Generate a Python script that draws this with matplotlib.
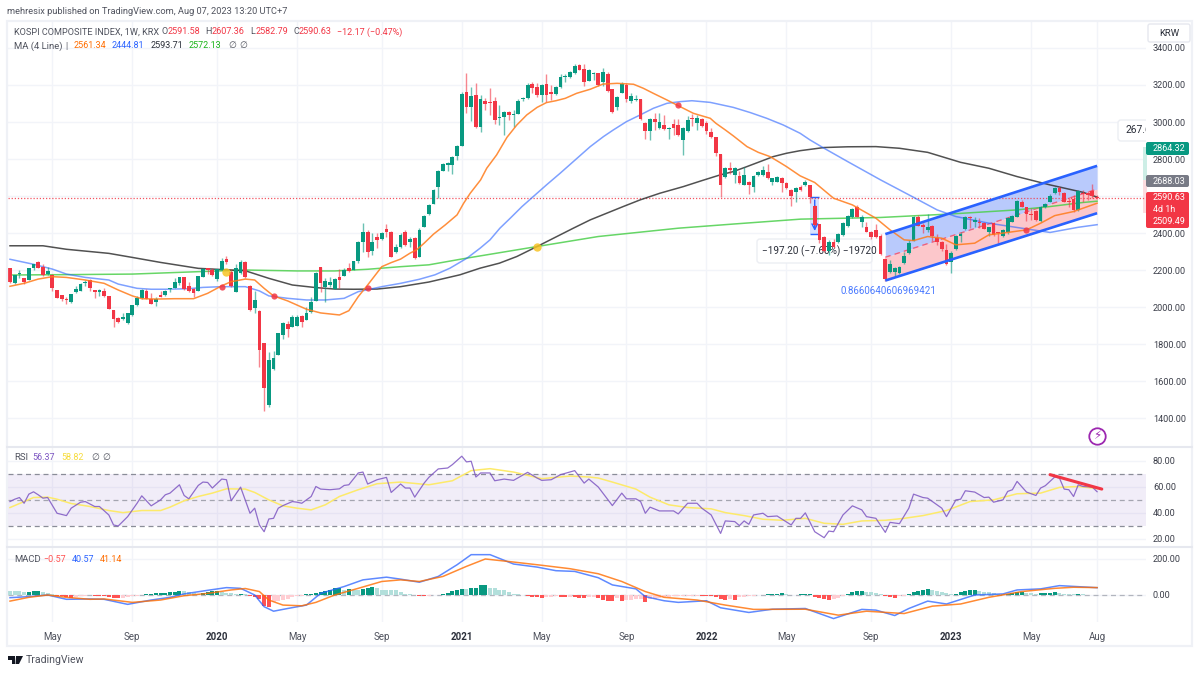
import matplotlib
matplotlib.use('Agg')
import matplotlib.pyplot as plt
import numpy as np
from matplotlib.patches import FancyBboxPatch, Rectangle, Polygon
from matplotlib.transforms import IdentityTransform

plt.rcParams['font.family'] = ['Roboto', 'DejaVu Sans']
plt.rcParams['axes.unicode_minus'] = False

# weekly candles
opens = [2209,2132,2177,2155,2146,2213,2243,2218,2178,2173,
         2092,2065,2043,2025,2083,2088,2128,2146,2090,2083,
         2087,2058,1984,1943,1934,1912,1955,2009,2047,2088,
         2045,2027,2065,2063,2096,2105,2132,2160,2115,2097,
         2087,2164,2209,2200,2151,2200,2259,2191,2081,2182,
         2245,2114,1993,1980,1804,1469,1665,1743,1849,1908,
         1894,1898,1953,1930,1975,2034,2214,2110,2121,2097,
         2160,2168,2211,2200,2250,2351,2407,2304,2376,2366,
         2420,2407,2295,2327,2403,2349,2372,2273,2435,2503,
         2557,2647,2737,2768,2768,2818,2872,3160,3079,3146,
         2971,3114,3110,3115,3020,3029,3056,3038,3043,3123,
         3132,3204,3191,3146,3204,3164,3151,3187,3241,3245,
         3263,3308,3286,3223,3258,3263,3214,3259,3177,3079,
         3159,3200,3115,3119,3123,2997,2952,3016,2966,2984,
         2961,2989,2984,2903,2952,3020,2993,3015,2997,2948,
         2917,2826,2705,2752,2714,2709,2660,2678,2647,2714,
         2714,2728,2678,2678,2696,2669,2633,2624,2651,2658,
         2658,2548,2448,2381,2305,2354,2349,2390,2439,2484,
         2543,2462,2430,2408,2417,2386,2260,2187,2187,2183,
         2237,2291,2359,2489,2444,2417,2439,2372,2350,2309,
         2246,2313,2385,2422,2484,2462,2462,2453,2403,2453,
         2404,2386,2403,2462,2489,2570,2538,2503,2521,2464,
         2538,2570,2615,2645,2615,2574,2583,2525,2615,2615,
         2627,2591.58]
highs = [2213,2173,2200,2157,2211,2234,2250,2231,2214,2178,
         2094,2067,2056,2072,2114,2128,2146,2150,2092,2096,
         2101,2060,1986,1948,1966,1968,2013,2060,2096,2096,
         2074,2056,2088,2090,2103,2155,2164,2164,2137,2103,
         2170,2209,2213,2209,2206,2267,2276,2204,2231,2254,
         2250,2117,2088,1984,1806,1759,1764,1862,1921,1926,
         1957,1957,1959,2002,2052,2191,2218,2155,2160,2155,
         2204,2209,2240,2250,2358,2456,2416,2402,2402,2407,
         2448,2412,2340,2400,2417,2377,2380,2426,2498,2555,
         2640,2740,2776,2785,2815,2878,3160,3267,3187,3209,
         3146,3128,3182,3137,3092,3060,3061,3065,3122,3137,
         3209,3218,3209,3206,3259,3200,3195,3259,3259,3278,
         3313,3313,3313,3285,3270,3267,3290,3272,3180,3142,
         3216,3209,3159,3146,3126,2999,3020,3047,3051,3038,
         2975,3015,3015,2975,3032,3043,3038,3020,3005,2966,
         2920,2829,2755,2786,2755,2737,2759,2680,2713,2737,
         2763,2771,2700,2709,2705,2678,2638,2646,2660,2687,
         2660,2550,2450,2385,2360,2365,2400,2458,2498,2535,
         2550,2495,2462,2412,2450,2392,2264,2255,2215,2220,
         2300,2362,2490,2498,2453,2502,2445,2395,2355,2340,
         2304,2390,2403,2490,2490,2485,2480,2460,2435,2458,
         2408,2422,2485,2500,2578,2579,2542,2534,2525,2545,
         2562,2610,2650,2652,2620,2597,2606,2630,2630,2625,
         2665,2607.36]
lows = [2132,2124,2155,2123,2144,2200,2209,2168,2173,2087,
        2047,2033,2016,2023,2078,2086,2114,2088,2051,2060,
        2056,1989,1890,1916,1930,1908,1953,2007,2045,2042,
        2016,2006,2052,2061,2081,2103,2119,2092,2081,2052,
        2085,2162,2177,2168,2139,2198,2232,2110,2079,2180,
        2155,1980,1970,1678,1440,1458,1660,1741,1826,1840,
        1892,1896,1894,1928,1970,2032,2083,2029,2110,2095,
        2101,2166,2191,2198,2236,2299,2268,2281,2317,2362,
        2380,2268,2290,2320,2332,2327,2260,2270,2433,2500,
        2555,2588,2735,2735,2720,2795,2870,3047,3007,2966,
        2948,3065,3038,2989,2984,2930,3011,2975,3041,3115,
        3125,3155,3137,3110,3110,3119,3146,3185,3218,3240,
        3260,3279,3195,3221,3227,3197,3195,3160,3051,3065,
        3157,3110,3105,3115,3011,2907,2903,2957,2960,2957,
        2907,2930,2925,2822,2948,2979,2957,2975,2935,2912,
        2817,2593,2700,2719,2669,2665,2657,2611,2624,2708,
        2708,2692,2660,2674,2624,2638,2547,2570,2625,2655,
        2560,2440,2345,2298,2282,2320,2345,2385,2435,2480,
        2485,2435,2403,2367,2372,2283,2143,2183,2161,2180,
        2230,2287,2355,2436,2399,2403,2359,2336,2305,2228,
        2183,2310,2354,2418,2425,2435,2426,2420,2385,2385,
        2345,2380,2395,2458,2485,2538,2466,2471,2465,2460,
        2533,2566,2610,2605,2566,2539,2516,2520,2570,2578,
        2590,2582.79]
closes = [2137,2173,2182,2133,2209,2232,2213,2173,2196,2101,
          2051,2042,2038,2070,2096,2124,2133,2105,2081,2090,
          2060,1991,1934,1921,1944,1966,2009,2051,2092,2045,
          2018,2045,2054,2087,2101,2137,2160,2097,2085,2078,
          2168,2205,2202,2175,2204,2250,2241,2114,2209,2241,
          2160,1984,2038,1768,1561,1714,1723,1858,1912,1883,
          1944,1948,1921,1970,2029,2182,2128,2142,2135,2150,
          2146,2200,2196,2247,2351,2405,2299,2353,2362,2398,
          2405,2272,2326,2390,2336,2367,2264,2417,2494,2552,
          2633,2736,2772,2777,2809,2872,3153,3079,3141,2971,
          3123,3097,3105,3011,3027,3056,3038,3042,3115,3132,
          3198,3182,3146,3202,3146,3151,3191,3241,3249,3272,
          3304,3281,3218,3281,3263,3200,3268,3169,3056,3137,
          3205,3123,3141,3126,3016,2952,3016,3002,3002,2961,
          2970,2970,2930,2970,3011,3016,3020,2979,2952,2917,
          2831,2660,2750,2741,2750,2669,2714,2660,2709,2732,
          2741,2696,2696,2705,2669,2642,2601,2642,2633,2673,
          2592,2444,2363,2305,2354,2327,2394,2453,2493,2529,
          2489,2489,2408,2381,2377,2287,2151,2232,2210,2214,
          2278,2345,2484,2440,2435,2435,2386,2354,2313,2233,
          2291,2385,2395,2484,2480,2471,2453,2424,2431,2390,
          2399,2417,2480,2493,2574,2543,2502,2498,2471,2538,
          2557,2601,2642,2624,2570,2566,2525,2627,2611,2606,
          2601,2590.63]

# moving averages, week index + value
ma_orange_w = [0,3,6,9,12,16,20,23,26,28,31,35,39,42,45,47,50,52,54,56,59,63,66,70,72,74,76,79,81,
               83,85,86.4,88,90,92.5,95,96.4,97.8,100,101.3,103.4,105.6,107.7,109.8,112,114,116,118,120.4,123.3,126,129,132.5,134.6,136.7,139.6,141.7,145.2,148.8,150,152,153.7,156.6,159,161.5,163.6,165,167.9,
               171,175,179,184,187,190,192,195,198,201,205,208,212,216,219,222,226,231]
ma_orange_v = [2112,2128,2151,2164,2160,2146,2128,2092,2060,2045,2043,2045,2045,2074,2115,2137,2151,2146,2101,2060,2033,1988,1968,1957,1980,2056,2119,2218,2240,
               2259,2291,2309,2345,2394,2444,2498,2561,2615,2687,2750,2822,2917,2984,3038,3079,3105,3115,3128,3155,3177,3205,3209,3204,3182,3155,3119,3092,3047,3020,2993,2957,2925,2867,2836,2813,2781,2759,2709,
               2673,2588,2552,2480,2417,2363,2359,2381,2372,2336,2345,2390,2403,2417,2453,2494,2516,2561]
ma_blue_w = [0,5,9,12,16,21,23,27,30,33,38,41,45,48,50,53,55,59,63,67,71,74,79,83,87,
             90.3,93.5,97.1,99.9,102,104.1,106.3,108.8,111.2,114,116.9,120.1,123.3,126.1,128.2,131,133.9,136.7,139.6,142.4,144.9,148.8,153.7,157.3,160.8,164.3,167.9,
             170,173,178,185,192,197,201,208,215,221,227,231]
ma_blue_v = [2258,2231,2205,2178,2160,2146,2124,2101,2096,2096,2099,2106,2110,2110,2110,2087,2060,2047,2038,2038,2047,2083,2110,2128,2150,
             2174,2210,2264,2318,2363,2426,2480,2543,2597,2660,2723,2795,2867,2921,2957,3002,3038,3074,3101,3110,3115,3106,3079,3051,3020,2984,2939,
             2903,2858,2786,2687,2593,2525,2489,2453,2426,2403,2431,2445]
ma_black_w = [0,7,12,21,26,32,40,47,50,55,60,65,69,73,78,83,89,
              95.6,99.9,104,107.7,112,116.2,119.7,123.3,126.8,130.3,133.9,138.1,143.1,147,150.9,153.7,156.6,159.4,162.2,165,167.9,
              173,178,184,189,195,202,208,214,221,228,231]
ma_black_v = [2331,2331,2312,2290,2268,2241,2209,2200,2196,2155,2119,2105,2097,2096,2097,2110,2135,
              2174,2210,2237,2273,2327,2381,2426,2471,2507,2543,2579,2615,2651,2683,2714,2732,2759,2786,2813,2831,2845,
              2862,2866,2867,2858,2836,2782,2750,2705,2660,2620,2594]
ma_green_w = [0,12,26,40,50,61,69,76,83,89,97,112,125,142,154,168,185,200,214,221,228,231]
ma_green_v = [2173,2175,2178,2191,2200,2195,2195,2204,2218,2228,2264,2327,2381,2426,2449,2475,2484,2503,2525,2543,2565,2572]

cross_red_w = [45,56,76,142,216]
cross_red_v = [2110,2060,2101,3090,2417]
cross_yellow_w = [46,112]
cross_yellow_v = [2191,2327]

# channel drawing
channel_w = [186,231]
channel_top = [2394,2763]
channel_mid = [2269,2637]
channel_bot = [2143,2507]

# RSI
rsi_w = [0,1,2,3,4,5,6,7,8,10,12,13,15,16,18,19,21,22,23,25,27,28,30,32,33,34,36,37,38,40,41,42,43,45,46,47,49,51,52,53,54,55,56,57,58,60,61,62,64,65,66,68,70,71,72,74,75,76,78,80,81,83,84,85,86,88,89,91,93,94,96,97,98,99,100,102,103,105,107,110,112,113,115,117,120,122,123,125,
         128,130,131,133,134,135,136,138,141,142,144,146,147,149,151,152,154,155,156,157,158,160,161,163,164,166,167,168,169,171,173,174,175,177,179,181,182,184,186,187,189,191,192,194,195,197,198,199,201,202,203,205,207,208,209,211,212,213,214,216,218,219,220,222,223,224,225,226,227,228,230,231]
rsi_v = [48.8,50.6,51.9,47.5,54.5,56.3,54,51.4,51.9,39.8,38,43.7,48.3,48.8,45,45,38.5,30.8,30,37.2,47.5,53.2,45.5,50.1,54,55.3,61.7,53.5,50.9,61.2,63.8,63.5,59.2,66.1,65.6,49.4,59.9,39.8,43.7,30.8,25.6,35.4,35.9,43.7,45.7,48.8,48.3,47.5,52.7,60.4,58.4,57.9,58.6,61.2,61.7,70.8,71.5,62.3,65.6,67.4,55.8,62.3,59.2,59.2,52.2,63,67.4,73.9,74.6,77.2,83.7,79.3,79.8,67.7,70.8,70.8,64.8,66.1,65.1,71.3,66.9,65.1,65.6,69.5,72.6,63,66.1,60,
         45.7,55.3,50.9,50.9,48.8,39.8,44.5,41.6,41.6,39.3,47.5,47.5,43.7,38.5,24.3,33.9,33.4,30.3,33.9,31.3,38.5,39.8,37.2,37.7,35.4,30.8,35.9,35.9,40.1,25.6,21,26.1,25.6,38.5,45.5,42.4,37.2,35.9,25.1,32.8,31.8,43.7,54.5,51.9,51.4,46.3,43.7,37.2,50.1,50.6,57.1,56.1,51.9,52.2,48.3,50.1,56.6,57.9,64.3,56.1,53.5,59.2,61,67.7,66.9,58.4,57.9,52.7,61.7,60.4,59.9,56.37]
rsi_ma_w = [0,3,5,8,10,13,17,21,24,28,32,34,37,40,43,46,50,52,55,58,61,64,67,70,74,78,83,89,94,98,102,107,113,119,123,125,
            128,133,136,140,144,149,152,156,160,164,169,173,177,181,186,190,194,199,204,209,214,219,223,227,231]
rsi_ma_v = [44.2,48.8,51.9,52.2,50.6,47.3,45,41.9,40.3,41.9,41.9,44.5,49.4,52.7,55.3,58.6,58.4,55.8,50.1,45.5,43.7,42.4,46.3,52.7,57.9,62.5,63.8,61.7,64.8,72.6,74.1,71.5,66.4,68.4,67.7,66.9,
            63.8,58.4,52.2,46.3,44.2,43.2,40.3,38,35.2,34.4,35.9,32.1,31.3,33.9,34.4,35.9,38,41.9,48.8,50.1,54.8,55.3,59.7,60.4,58.82]
rsi_trend_w = [221,232]
rsi_trend_v = [69.5,58.4]
rsi_ticks = [20,40,60,80]
rsi_levels = [30,50,70]

# MACD
macd_w = [0,4,8,12,17,20,25,30,34,37,42,46,49,52,54,56,59,63,66,71,75,80,83,87,91,95,98,102,107,112,116,120,125,
          128,133,135,139,142,148,151,157,162,169,175,181,184,188,191,195,199,205,211,214,219,223,231]
macd_v = [-15,-9,0,-24,-22,-24,-52,-28,-13,6,26,41,37,0,-65,-90,-75,-56,9,47,84,99,88,71,103,168,224,224,172,155,135,131,96,
          56,34,-9,-32,-41,-32,-71,-97,-79,-75,-131,-80,-84,-114,-75,-34,-50,0,6,28,34,52,40.57]
signal_w = [0,4,8,12,17,20,26,32,37,42,47,50,53,55,58,62,65,69,74,79,83,87,92,97,101,107,113,119,125,
            130,135,139,146,152,158,169,176,182,190,196,202,208,215,222,226,231]
signal_v = [-34,-13,0,-13,-24,-22,-41,-28,-4,9,28,36,19,-28,-56,-60,-41,0,37,75,84,75,103,159,200,183,165,146,118,
            75,19,-13,-28,-56,-80,-79,-112,-90,-103,-62,-50,-13,19,37,43,41.14]
macd_hist = [22,21,20,16,18,20,22,14,10,5,
             -3,-6,-10,-15,-10,-5,-3,-2,-3,-5,
             -8,-12,-15,-18,-14,-10,-6,-3,2,5,
             7,9,11,13,15,18,22,20,14,10,
             8,12,18,20,22,16,12,9,6,7,
             3,-8,-10,-25,-60,-65,-40,-35,-28,-20,
             -12,-8,-3,4,8,10,14,22,30,38,
             40,30,35,30,30,33,38,42,38,30,
             28,28,25,15,8,4,2,-4,-7,-4,
             -1,2,6,12,20,30,36,36,38,40,
             55,58,40,38,30,25,15,8,3,-2,
             -8,-10,-12,-14,-12,-9,-8,-10,-12,-10,
             -11,-17,-18,-10,-9,-15,-28,-35,-36,-15,
             -35,-30,-27,-25,-24,-38,-22,-20,-16,-12,
             -10,-8,-6,-5,-4,-3,-3,-5,-7,-8,
             -12,-20,-28,-20,-28,-12,-10,-8,-5,-2,
             2,5,7,8,9,5,-2,-1,4,6,
             7,-10,-16,-22,-26,-22,-16,-8,6,14,
             20,22,18,14,10,4,-6,-10,-14,-8,
             -3,6,16,24,30,33,30,22,16,10,
             5,8,14,22,26,28,24,18,14,10,
             7,5,7,10,14,16,13,9,6,9,
             11,13,16,12,8,5,3,4,3,2,
             1,-0.57]
macd_ticks = [0,200]

price_ticks = [1400,1600,1800,2000,2200,2400,2600,2800,3000,3200,3400]
time_ticks = [9,26,44,61,79,96,113,131,148,165,183,200,217,231]
time_labels = ['May','Sep','2020','May','Sep','2021','May','Sep','2022','May','Sep','2023','May','Aug']

measure_w = [170,172]
measure_v = [2593,2396]
position_top = 2864.32
position_entry = 2688.03
position_stop = 2509.49

GREEN = '#089981'
RED = '#f23645'
GRID = '#f2f4f9'
TEXT = '#50535e'
W, H = 1200, 674
X0, STEP = 10, 4.706


def box(left, top, right, bottom):
    return [left / W, 1 - bottom / H, (right - left) / W, (bottom - top) / H]


def week_at(x):
    return (x - X0) / STEP


def price_at(y):
    return 3000 - 5.405 * (y - 122)


def ftext(x, y, s, color=TEXT, size=6.5, **kw):
    fig.text(x / W, 1 - y / H, s, color=color, fontsize=size, va='center', zorder=20, **kw)


def prep_axes(ax, ticks, labels):
    for sp in ax.spines.values():
        sp.set_visible(False)
    ax.set_xlim(week_at(8), week_at(1146))
    ax.yaxis.tick_right()
    ax.set_yticks(ticks, labels)
    ax.set_xticks(time_ticks)
    ax.tick_params(axis='y', length=0, pad=5, labelsize=6.6, labelcolor='#3c3f4a')
    ax.tick_params(axis='x', length=0, labelbottom=False)
    ax.grid(color=GRID, lw=1)
    ax.set_axisbelow(True)


fig = plt.figure(figsize=(12, 6.74), dpi=100, facecolor='white')
ax = fig.add_axes(box(8, 22, 1146, 446))
ax_rsi = fig.add_axes(box(8, 447, 1146, 546))
ax_macd = fig.add_axes(box(8, 548, 1146, 622))

# price panel
weeks = np.arange(len(closes))
o, h, l, c = map(np.array, (opens, highs, lows, closes))
up = c >= o
col = np.where(up, GREEN, RED)

ax.fill_between(channel_w, channel_mid, channel_top, color='#b9cafc', lw=0, zorder=1)
ax.fill_between(channel_w, channel_bot, channel_mid, color='#fcc7cb', lw=0, zorder=1)
ax.plot(channel_w, channel_mid, color='#f0607a', lw=1, ls=(0, (4, 3)), zorder=1.5)

ax.fill_between(measure_w, measure_v[1], measure_v[0], color='#2962ff', alpha=0.18, lw=0, zorder=1)
ax.hlines(measure_v, measure_w[0], measure_w[1], color='#2962ff', lw=1, zorder=2)
ax.annotate('', xy=(sum(measure_w) / 2, measure_v[1]), xytext=(sum(measure_w) / 2, measure_v[0]),
            arrowprops=dict(arrowstyle='->', color='#2962ff', lw=1), zorder=2)

ax.axhline(closes[-1], color=RED, lw=0.9, ls=(0, (1, 1.5)), zorder=2, alpha=0.85)

ax.plot(ma_green_w, ma_green_v, color='#4ccf4c', lw=1.1, alpha=0.85, zorder=3)
ax.plot(ma_black_w, ma_black_v, color='#333333', lw=1.1, alpha=0.85, zorder=3)
ax.plot(ma_blue_w, ma_blue_v, color='#2962ff', lw=1.1, alpha=0.6, zorder=3)

ax.vlines(weeks, l, h, color=col, lw=1, alpha=0.6, zorder=4)
ax.bar(weeks, np.abs(c - o).clip(4), bottom=np.minimum(o, c), width=0.8, color=col, lw=0, zorder=4.2)
ax.plot(ma_orange_w, ma_orange_v, color='#ff7b1a', lw=1.1, alpha=0.85, zorder=4.4)

ax.plot(channel_w, channel_top, color='#2962ff', lw=1.9, solid_capstyle='butt', zorder=4.5)
ax.plot(channel_w, channel_bot, color='#2962ff', lw=1.9, solid_capstyle='butt', zorder=4.5)

ax.scatter(cross_red_w, cross_red_v, s=20, color=RED, alpha=0.85, lw=0, zorder=5)
ax.scatter(cross_yellow_w, cross_yellow_v, s=36, color='#f7c325', alpha=0.85, lw=0, zorder=5)

# position tool, cut off by the price scale
ax.fill_between([week_at(1143), week_at(1147)], position_entry, position_top, color='#cdeee6', lw=0, zorder=1)
ax.fill_between([week_at(1143), week_at(1147)], position_stop, position_entry, color='#fcdcdf', lw=0, zorder=1)

prep_axes(ax, price_ticks, ['%.2f' % p for p in price_ticks])
ax.set_ylim(price_at(446), price_at(22))


# boxes in pixel coords, y counted from the top of the picture
def px_box(target, left, top, right, bottom, **kw):
    p = FancyBboxPatch((left, H - bottom), right - left, bottom - top,
                       boxstyle='round,pad=0,rounding_size=3', transform=IdentityTransform(), **kw)
    target.add_patch(p)
    return p


px_box(ax, 757, 239, 872, 263, fc='white', ec='#eceef3', lw=1, zorder=3.5)
ax.text(week_at(762), price_at(251), '\u2212197.20 (\u22127.60%) \u221219720', fontsize=7.2,
        color='#2a2e39', va='center', zorder=3.6)
ax.text(week_at(841), price_at(291), '0.8660640606969421', fontsize=7, color='#2962ff',
        va='center', zorder=6, alpha=0.85)
px_box(ax, 1118, 120, 1190, 141, fc='white', ec='#eceef3', lw=1, zorder=6)
ax.text(week_at(1125), price_at(130), '267.6', fontsize=7.4, color='#2a2e39', va='center',
        zorder=7, clip_on=True)

# lightning badge
ax.scatter([week_at(1097)], [price_at(436)], s=140, facecolor='white', edgecolor='#9c27b0', lw=1.3, zorder=6)
ax.text(week_at(1097), price_at(436), '\u26a1', color='#9c27b0', fontsize=8.5, ha='center',
        va='center', zorder=7, family=['DejaVu Sans'])

# RSI panel
ax_rsi.axhspan(rsi_levels[0], rsi_levels[2], color='#7e57c2', alpha=0.1, lw=0)
for lev in rsi_levels:
    ax_rsi.axhline(lev, color='#8a8d98', lw=0.9, ls=(0, (4, 3)), alpha=0.75 if lev == 50 else 1)
ax_rsi.plot(rsi_ma_w, rsi_ma_v, color='#fdea6a', lw=1.1, zorder=3)
ax_rsi.plot(rsi_w, rsi_v, color='#7e57c2', lw=0.9, alpha=0.85, zorder=3.5)
ax_rsi.plot(rsi_trend_w, rsi_trend_v, color='#f23645', lw=2.2, solid_capstyle='round', zorder=4)
prep_axes(ax_rsi, rsi_ticks, ['%.2f' % p for p in rsi_ticks])
ax_rsi.set_ylim(70 - 72 / 1.3, 70 + 27 / 1.3)

# MACD panel
hist = np.array(macd_hist, dtype=float)
prev = np.r_[hist[0], hist[:-1]]
hist_col = np.where(hist >= 0,
                    np.where(hist > prev, GREEN, '#b2dfdb'),
                    np.where(hist < prev, '#ff5252', '#ffcdd2'))
ax_macd.axhline(0, color='#b2b5be', lw=0.9, ls=(0, (4, 3)), zorder=1)
ax_macd.bar(weeks, hist, width=0.85, color=hist_col, lw=0, zorder=2)
ax_macd.plot(macd_w, macd_v, color='#2962ff', lw=1.1, alpha=0.75, zorder=3)
ax_macd.plot(signal_w, signal_v, color='#ff6d00', lw=1.1, alpha=0.8, zorder=3.5)
prep_axes(ax_macd, macd_ticks, ['%.2f' % p for p in macd_ticks])
ax_macd.set_ylim(-150, 261)

ax_macd.tick_params(axis='x', labelbottom=True, pad=7, labelsize=7, labelcolor='#50535e')
ax_macd.set_xticklabels(time_labels)
for lab, txt in zip(ax_macd.get_xticklabels(), time_labels):
    if txt.isdigit():
        lab.set_fontweight('bold')
        lab.set_color('#2a2e39')

# frame around the whole chart and panel separators
fig.add_artist(Rectangle((7 / W, 1 - 646 / H), 1185 / W, 625 / H, fc='none', ec='#eff1f6', lw=1.6,
                         transform=fig.transFigure, zorder=9))
for sep in (446.5, 546.5):
    fig.add_artist(plt.Line2D([7 / W, 1192 / W], [1 - sep / H] * 2, color='#e6e8ef', lw=1.5, zorder=9))

# header texts
ftext(7, 11, 'mehresix published on TradingView.com, Aug 07, 2023 13:20 UTC+7', color='#50535e', size=6.7)
ftext(14, 32, 'KOSPI COMPOSITE INDEX, 1W, KRX', size=6.6)
for x, s, cl in [(161, 'O', TEXT), (168, '2591.58', RED), (205, 'H', TEXT), (212, '2607.36', RED),
                 (250, 'L', TEXT), (256, '2582.79', RED), (293, 'C', TEXT), (299, '2590.63', RED),
                 (337, '\u221212.17 (\u22120.47%)', RED)]:
    ftext(x, 32, s, color=cl)
ftext(14, 46, 'MA (4 Line)', size=6.8)
ftext(65, 46, '|', size=6.5)
for x, s, cl in [(74, '2561.34', '#ff6d00'), (112, '2444.81', '#2962ff'), (151, '2593.71', '#2a2e39'),
                 (189, '2572.13', '#19b319'), (228, '\u2205', TEXT), (239, '\u2205', TEXT)]:
    ftext(x, 46, s, color=cl)
ftext(14, 458, 'RSI', size=6.8)
for x, s, cl in [(32, '56.37', '#7e57c2'), (61, '58.82', '#f7dc3c'), (91, '\u2205', TEXT), (102, '\u2205', TEXT)]:
    ftext(x, 458, s, color=cl)
ftext(14, 559, 'MACD', size=6.8)
for x, s, cl in [(43, '\u22120.57', '#ff5252'), (72, '40.57', '#2962ff'), (100, '41.14', '#ff6d00')]:
    ftext(x, 559, s, color=cl)


# right-hand tags
def fig_box(left, top, right, bottom, fc, ec='none'):
    fig.add_artist(FancyBboxPatch((left, H - bottom), right - left, bottom - top,
                                  boxstyle='round,pad=0,rounding_size=2', fc=fc, ec=ec, lw=1,
                                  transform=IdentityTransform(), zorder=15))


fig_box(1148, 24, 1190, 42, 'white', '#e6e8ef')
ftext(1169, 33, 'KRW', color='#2a2e39', size=6.8, ha='center')
fig_box(1146, 142, 1189, 155, GREEN)
ftext(1153, 148.5, '2864.32', color='white')
fig_box(1146, 175, 1189, 187, '#787b86')
ftext(1153, 181, '2688.03', color='white')
fig_box(1146, 192, 1189, 228, RED)
ftext(1153, 198, '2590.63', color='white')
ftext(1153, 209.5, '4d 1h', color='white')
ftext(1153, 222, '2509.49', color='white')

# TradingView logo
fig.add_artist(Polygon([(8, H - 656), (15, H - 656), (15, H - 664), (12, H - 664), (12, H - 660), (8, H - 660)],
                       fc='#131722', ec='none', transform=IdentityTransform(), zorder=15))
fig.add_artist(Polygon([(16, H - 656), (23, H - 656), (19, H - 664), (15.5, H - 664)],
                       fc='#131722', ec='none', transform=IdentityTransform(), zorder=15))
ftext(26, 660, 'TradingView', color='#50535e', size=7.6)

fig.savefig('out.png', dpi=100)
